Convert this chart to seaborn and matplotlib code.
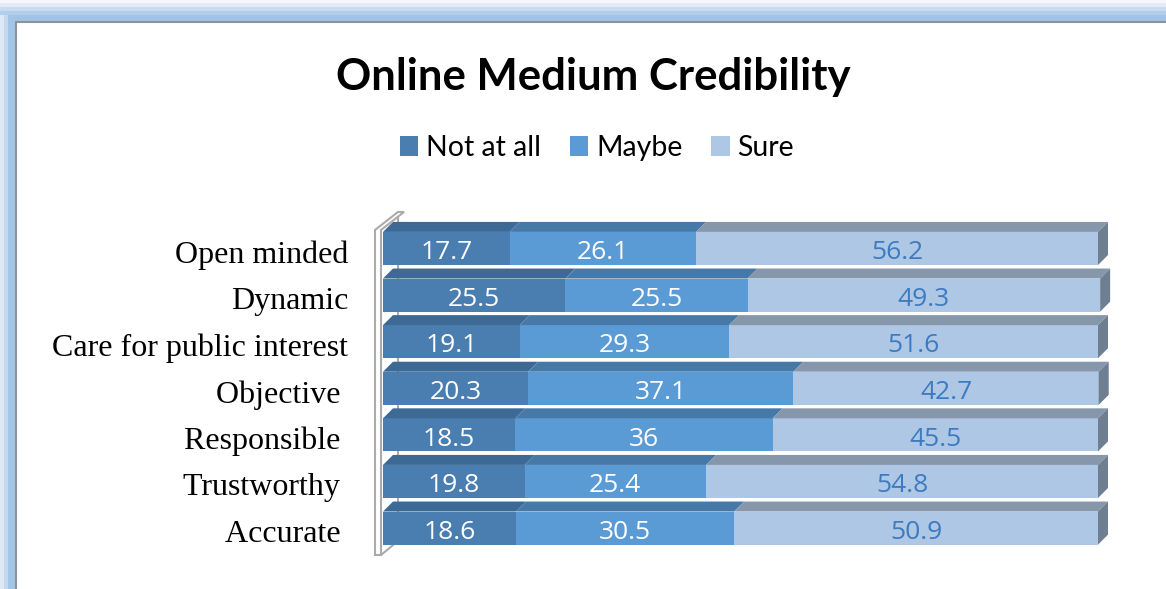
import numpy as np
import pandas as pd
import matplotlib
matplotlib.use("Agg")
import matplotlib.pyplot as plt
import matplotlib.transforms as mtransforms
import seaborn as sns
from matplotlib.patches import Polygon, Rectangle, Patch
from matplotlib.lines import Line2D

# data
categories = ["Open minded", "Dynamic", "Care for public interest", "Objective",
              "Responsible", "Trustworthy", "Accurate"]
tick_labels = ["Open minded", "Dynamic", "Care for public interest", "Objective ",
               "Responsible ", "Trustworthy ", "Accurate "]
not_at_all = [17.7, 25.5, 19.1, 20.3, 18.5, 19.8, 18.6]
maybe = [26.1, 25.5, 29.3, 37.1, 36, 25.4, 30.5]
sure = [56.2, 49.3, 51.6, 42.7, 45.5, 54.8, 50.9]
series_names = ["Not at all", "Maybe", "Sure"]

front_colors = ["#4A7EB1", "#5B9BD5", "#AEC7E5"]
top_colors = ["#3D6A95", "#4779A8", "#8797AB"]
side_color = "#6F7F92"
text_colors = ["white", "white", "#3C7BC0"]

df = pd.DataFrame({"category": categories, "Not at all": not_at_all,
                   "Maybe": maybe, "Sure": sure})
df["c1"] = df["Not at all"]
df["c2"] = df["c1"] + df["Maybe"]
df["c3"] = df["c2"] + df["Sure"]

sns.set_style("white")

fig = plt.figure(figsize=(11.66, 5.89), dpi=100)
W, H = 1166, 589

# window-like border at top and left
top_bands = [(0, 3, "#F4F7FB"), (3, 7, "#E3ECF6"), (7, 11, "#C9DCEF"),
             (11, 15, "#B2CEEA"), (15, 21, "#A0C4E7")]
for y0, y1, c in top_bands:
    fig.patches.append(Rectangle((0, 1 - y1 / H), 1, (y1 - y0) / H,
                                 transform=fig.transFigure, color=c, lw=0, zorder=0))
left_bands = [(0, 4, "#DDE9F6"), (4, 8, "#C4D9EE"), (8, 15, "#A3C5E7")]
for x0, x1, c in left_bands:
    fig.patches.append(Rectangle((x0 / W, 0), (x1 - x0) / W, 1 - 15 / H,
                                 transform=fig.transFigure, color=c, lw=0, zorder=0))
fig.add_artist(Line2D([16 / W, 1], [1 - 22 / H, 1 - 22 / H], transform=fig.transFigure,
                      color="#8C9399", lw=1.5))
fig.add_artist(Line2D([16 / W, 16 / W], [0, 1 - 22 / H], transform=fig.transFigure,
                      color="#8C9399", lw=1.5))

# plot area: x 0..100 maps to pixels 383..1098
px_per_unit = 7.15
row_px = 46.6
ax = fig.add_axes([383 / W, 1 - 560 / H, 715 / W, 360 / H])
ax.patch.set_alpha(0)

bar_h = 0.71
# stacked bars: draw cumulative totals from largest to smallest
for col, c in zip(["c3", "c2", "c1"], front_colors[::-1]):
    sns.barplot(data=df, x=col, y="category", order=categories, color=c,
                width=bar_h, saturation=1, ax=ax, linewidth=0, zorder=3)
for p in ax.patches:
    p.set_clip_on(False)

ax.set_xlim(0, 100)
ax.set_ylim(6.685, -1.04)

dx = 10 / px_per_unit
dy = 10 / row_px
starts = [np.zeros(len(categories)), df["c1"].values, df["c2"].values]
ends = [df["c1"].values, df["c2"].values, df["c3"].values]
vals = [not_at_all, maybe, sure]
for k in range(3):
    for i in range(len(categories)):
        s, e = starts[k][i], ends[k][i]
        yt = i - bar_h / 2
        ax.add_patch(Polygon([(s, yt), (e, yt), (e + dx, yt - dy), (s + dx, yt - dy)],
                             closed=True, facecolor=top_colors[k], lw=0, zorder=4,
                             clip_on=False))
        if k == 2:
            yb = i + bar_h / 2
            ax.add_patch(Polygon([(e, yt), (e + dx, yt - dy), (e + dx, yb - dy), (e, yb)],
                                 closed=True, facecolor=side_color, lw=0, zorder=4,
                                 clip_on=False))
        ax.text((s + e) / 2, i + 0.09, f"{vals[k][i]:g}", ha="center", va="center",
                color=text_colors[k], fontsize=19, family="Open Sans", zorder=5)

# left wall
def to_data(px, py):
    return ((px - 383) / px_per_unit, (py - 248.5) / row_px)

wall = [to_data(375, 555), to_data(375, 230), to_data(398, 212), to_data(404, 212),
        to_data(381, 230), to_data(381, 555)]
ax.add_patch(Polygon(wall, closed=True, facecolor="white", edgecolor="#ABABAB",
                     lw=1.5, zorder=2, clip_on=False))
ax.add_line(Line2D(*zip(to_data(381, 555), to_data(398, 541)), color="#ABABAB",
                   lw=1.5, zorder=2, clip_on=False))
ax.add_line(Line2D(*zip(to_data(398, 212), to_data(398, 541)), color="#ABABAB",
                   lw=1.5, zorder=1, clip_on=False))

ax.set_yticks(range(len(categories)))
ax.set_yticklabels(tick_labels, family="Liberation Serif", fontsize=23, color="black")
ax.tick_params(axis="y", length=0, pad=25)
shift = mtransforms.ScaledTranslation(0, -3 / 100, fig.dpi_scale_trans)
for lab in ax.get_yticklabels():
    lab.set_transform(lab.get_transform() + shift)
ax.set_xticks([])
ax.set_xlabel("")
ax.set_ylabel("")
sns.despine(ax=ax, left=True, bottom=True)

fig.text(593 / W, 1 - 77 / H, "Online Medium Credibility", ha="center", va="center",
         fontsize=31.5, fontweight="bold", family="Lato", color="black")

handles = [Patch(facecolor=c, edgecolor="none") for c in front_colors]
fig.legend(handles, series_names, loc="center", bbox_to_anchor=(597 / W, 1 - 148 / H),
           ncol=3, frameon=False, prop={"family": "Lato", "size": 20.5},
           labelcolor="black", handlelength=0.65, handleheight=0.65,
           handletextpad=0.28, columnspacing=1.0)

fig.savefig("out.png", dpi=100)
